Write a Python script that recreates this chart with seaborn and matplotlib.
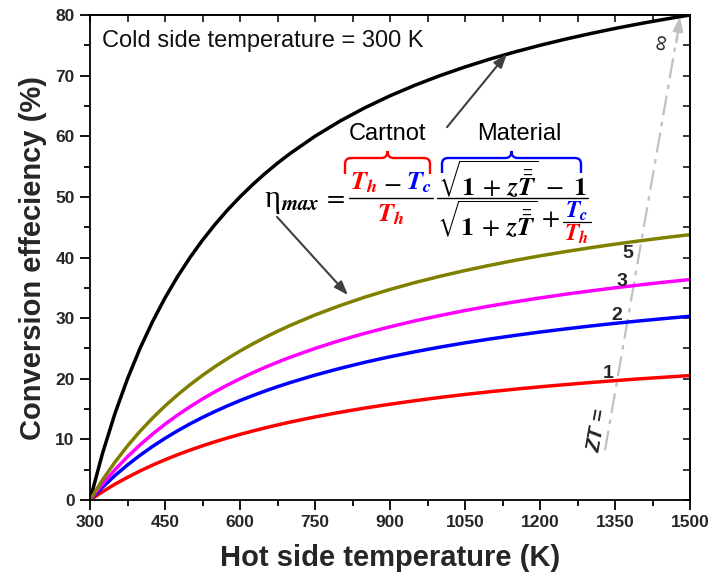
import matplotlib
matplotlib.use("Agg")
import numpy as np
import pandas as pd
import seaborn as sns
import matplotlib.pyplot as plt
from matplotlib.path import Path
from matplotlib.patches import PathPatch
from matplotlib.lines import Line2D
from matplotlib.transforms import Affine2D
from matplotlib.ticker import MultipleLocator

# Hot side temperature (K)
T_hot = [300, 325, 350, 375, 400, 425, 450, 475, 500, 525, 550, 575, 600, 625, 650,
         675, 700, 750, 800, 850, 900, 950, 1000, 1050, 1100, 1150, 1200, 1250,
         1300, 1350, 1400, 1450, 1500]

# Conversion efficiency (%) for each curve
eff_carnot = [0, 7.69, 14.29, 20.00, 25.00, 29.41, 33.33, 36.84, 40.00, 42.86, 45.45,
              47.83, 50.00, 52.00, 53.85, 55.56, 57.14, 60.00, 62.50, 64.71, 66.67,
              68.42, 70.00, 71.43, 72.73, 73.91, 75.00, 76.00, 76.92, 77.78, 78.57,
              79.31, 80.00]
eff_zt1 = [0, 1.36, 2.61, 3.74, 4.79, 5.75, 6.64, 7.46, 8.23, 8.94, 9.61, 10.23,
           10.82, 11.37, 11.89, 12.38, 12.85, 13.70, 14.47, 15.17, 15.80, 16.38,
           16.92, 17.41, 17.86, 18.28, 18.67, 19.03, 19.37, 19.69, 19.99, 20.26, 20.53]
eff_zt2 = [0, 2.12, 4.04, 5.78, 7.37, 8.83, 10.17, 11.41, 12.56, 13.62, 14.61, 15.53,
           16.40, 17.21, 17.97, 18.69, 19.36, 20.60, 21.71, 22.72, 23.63, 24.46,
           25.22, 25.92, 26.56, 27.15, 27.70, 28.21, 28.69, 29.14, 29.55, 29.94, 30.31]
eff_zt3 = [0, 2.63, 5.00, 7.14, 9.09, 10.87, 12.50, 14.00, 15.38, 16.67, 17.86, 18.97,
           20.00, 20.97, 21.88, 22.73, 23.53, 25.00, 26.32, 27.50, 28.57, 29.55,
           30.43, 31.25, 32.00, 32.69, 33.33, 33.93, 34.48, 35.00, 35.48, 35.94, 36.36]
eff_zt5 = [0, 3.31, 6.26, 8.92, 11.33, 13.51, 15.51, 17.33, 19.01, 20.56, 22.00, 23.33,
           24.57, 25.73, 26.81, 27.83, 28.78, 30.52, 32.07, 33.47, 34.73, 35.87,
           36.90, 37.85, 38.72, 39.53, 40.27, 40.96, 41.60, 42.20, 42.75, 43.28, 43.77]

curve_names = ["Carnot", "ZT=1", "ZT=2", "ZT=3", "ZT=5"]
curve_values = [eff_carnot, eff_zt1, eff_zt2, eff_zt3, eff_zt5]
curve_colors = ["#000000", "#ff0000", "#0000ff", "#ff00ff", "#808000"]

# ZT labels placed at the right end of the curves
zt_labels = ["1", "2", "3", "5"]
zt_label_x = [1336, 1354, 1364, 1376]
zt_label_y = [20.8, 30.5, 36.1, 40.6]

sns.set_theme(style="ticks")
plt.rcParams["font.family"] = ["Liberation Sans", "DejaVu Sans"]
plt.rcParams["mathtext.fontset"] = "stix"

W, H = 712, 585
fig = plt.figure(figsize=(W / 100, H / 100), dpi=100)
fig.patch.set_facecolor("white")
ax = fig.add_axes([90 / W, 1 - 500 / H, 600 / W, 485 / H])

df = pd.DataFrame({
    "T": np.tile(T_hot, len(curve_names)),
    "eff": np.concatenate(curve_values),
    "curve": np.repeat(curve_names, len(T_hot)),
})
sns.lineplot(data=df, x="T", y="eff", hue="curve", hue_order=curve_names,
             palette=dict(zip(curve_names, curve_colors)), linewidth=2.5,
             estimator=None, sort=False, legend=False, ax=ax)
for ln in ax.lines:
    ln.set_solid_joinstyle("round")

ax.set_xlim(300, 1500)
ax.set_ylim(0, 80)
ax.xaxis.set_major_locator(MultipleLocator(150))
ax.xaxis.set_minor_locator(MultipleLocator(75))
ax.yaxis.set_major_locator(MultipleLocator(10))
ax.yaxis.set_minor_locator(MultipleLocator(5))
ax.tick_params(which="major", direction="out", length=7, width=1.3,
               labelsize=12.5, color="black", pad=4)
ax.tick_params(which="minor", direction="out", length=4, width=1.3, color="black")
for lab in ax.get_xticklabels() + ax.get_yticklabels():
    lab.set_fontweight("bold")
for sp in ax.spines.values():
    sp.set_visible(True)
    sp.set_linewidth(1.3)
    sp.set_color("black")

# inward ticks on the top and right frame
top = ax.secondary_xaxis("top")
top.xaxis.set_major_locator(MultipleLocator(75))
top.tick_params(direction="in", length=5, width=1.3, labeltop=False)
right = ax.secondary_yaxis("right")
right.yaxis.set_major_locator(MultipleLocator(5))
right.tick_params(direction="in", length=5, width=1.3, labelright=False)

ax.set_xlabel("Hot side temperature (K)", fontsize=21, fontweight="bold", labelpad=10)
ax.set_ylabel("Conversion effeciency (%)", fontsize=21, fontweight="bold", labelpad=6)

pix = Affine2D().scale(1 / W, -1 / H).translate(0, 1) + fig.transFigure

fig.text(102, 41, "Cold side temperature = 300 K", fontsize=17, transform=pix,
         ha="left", va="center", color="#111111")

# ZT curve labels
for lab, lx, ly in zip(zt_labels, zt_label_x, zt_label_y):
    ax.text(lx, ly, lab, fontsize=14, fontweight="bold", ha="center", va="center")

# increasing-ZT guide arrow
ax.plot([1330, 1474], [8.2, 76.5], color="#c0c0c0", lw=1.6,
        ls=(0, (9, 3, 2, 3)), zorder=1)
ax.annotate("", xy=(1480, 79.7), xytext=(1473, 75.5),
            arrowprops=dict(arrowstyle="-|>,head_length=0.7,head_width=0.25",
                            color="#c0c0c0", lw=1.6, shrinkA=0, shrinkB=0))
ax.text(1316, 11.5, "ZT =", fontsize=15, fontweight="bold", fontstyle="italic",
        rotation=80, ha="center", va="center")
ax.text(1444, 75.5, "\u221e", fontsize=16, rotation=80, ha="center", va="center",
        color="#222222")

# pointer arrows to the formula
arrow_kw = dict(arrowstyle="-|>,head_length=0.7,head_width=0.25",
                color="#404040", lw=1.5, shrinkA=0, shrinkB=0)
ax.annotate("", xy=(1134, 73.6), xytext=(1014, 61.5), arrowprops=arrow_kw)
ax.annotate("", xy=(816, 33.8), xytext=(674, 46.7), arrowprops=arrow_kw)

# efficiency formula, laid out in pixel coordinates
RED, BLUE = "#ff0000", "#0000ff"
FS = 19
renderer = fig.canvas.get_renderer()


def put(x, y, s, color="black", ha="left", size=FS, **kw):
    return fig.text(x, y, s, transform=pix, ha=ha, va="center", color=color,
                    fontsize=size, **kw)


def width(t):
    return t.get_window_extent(renderer).width


def row(xc, y, pieces, gap=3, size=FS):
    """Place coloured pieces side by side, centred on xc."""
    texts = [put(0, y, s, c, size=size) for s, c in pieces]
    widths = [width(t) for t in texts]
    total = sum(widths) + gap * (len(pieces) - 1)
    x = xc - total / 2
    for t, w in zip(texts, widths):
        t.set_position((x, y))
        x += w + gap


def hbar(x0, x1, y, lw=1.0):
    fig.add_artist(Line2D([x0, x1], [y, y], transform=pix, color="black", lw=lw))


def brace(x0, x1, ytop, ybot, ycusp, color):
    xm = (x0 + x1) / 2
    r = 6
    verts = [(x0, ybot), (x0, ytop + r), (x0, ytop), (x0 + r, ytop),
             (xm - r, ytop), (xm, ytop), (xm, ycusp), (xm, ytop), (xm + r, ytop),
             (x1 - r, ytop), (x1, ytop), (x1, ytop + r), (x1, ybot)]
    codes = [Path.MOVETO, Path.LINETO, Path.CURVE3, Path.CURVE3,
             Path.LINETO, Path.CURVE3, Path.CURVE3, Path.CURVE3, Path.CURVE3,
             Path.LINETO, Path.CURVE3, Path.CURVE3, Path.LINETO]
    fig.add_artist(PathPatch(Path(verts, codes), transform=pix, fill=False,
                             edgecolor=color, lw=1.7))


TH = r"$\mathbfit{T}_{\mathbfit{h}}$"
TC = r"$\mathbfit{T}_{\mathbfit{c}}$"
ROOT = r"\sqrt{\mathbf{1}\,+\,\mathbfit{z}\bar{\bar{\mathbfit{T}}}}"

# eta_max =
eta = put(264, 199, "\u03b7", size=22, family=["Liberation Serif", "DejaVu Serif"])
put(264 + width(eta) + 1, 205, r"$\mathbfit{max}$", size=15)
put(323, 197, r"$=$")

# Carnot factor
row(391, 183, [(TH, RED), (r"$-$", "black"), (TC, BLUE)], gap=5)
hbar(349, 433, 198)
put(391, 215, TH, RED, ha="center")

# material factor
row(512, 181, [("$" + ROOT + r"\;-\;\mathbf{1}$", "black")])
hbar(437, 588, 198)
root = put(437, 221, "$" + ROOT + "$")
x_plus = 437 + width(root) + 3
plus = put(x_plus, 219, r"$+$")
xc_frac = x_plus + width(plus) + 3 + 14
put(xc_frac, 211, TC, BLUE, ha="center", size=17)
hbar(xc_frac - 14, xc_frac + 14, 222, lw=0.9)
put(xc_frac, 234, TH, RED, ha="center", size=17)

brace(345, 430, 158, 174, 151, RED)
brace(442, 581, 158, 173, 151, BLUE)
put(388, 134, "Cartnot", ha="center", size=17)
put(519, 134, "Material", ha="center", size=17)

fig.savefig("out.png", dpi=100, facecolor="white")
